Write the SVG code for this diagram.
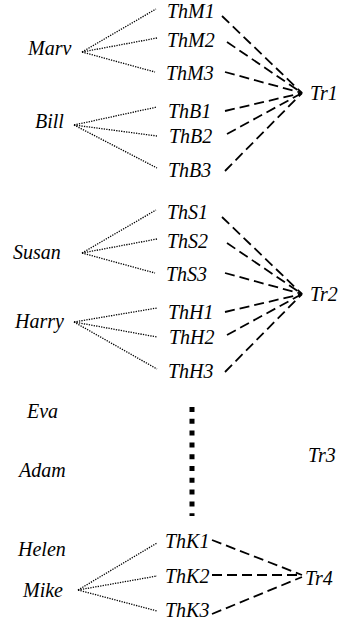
<svg xmlns="http://www.w3.org/2000/svg" width="350" height="621" viewBox="0 0 350 621">
  <style>
    .lbl { font-family: 'Liberation Serif', 'Times New Roman', serif; font-style: italic; font-size: 20px; fill: #000; }
    .dot { stroke: #000; stroke-width: 1.3; stroke-dasharray: 1.3 1.2; fill: none; }
    .dash { stroke: #000; stroke-width: 1.8; stroke-dasharray: 10 5; fill: none; }
    .gap { stroke: #000; stroke-width: 5; stroke-dasharray: 5 6.8; fill: none; }
  </style>
  <rect width="350" height="621" fill="#fff"/>

  <g id="connectors">
    <!-- person to thread links (dotted) -->
    <g id="person-links">
      <line class="dot" x1="82" y1="52" x2="156" y2="9"/>
      <line class="dot" x1="82" y1="52" x2="157" y2="38"/>
      <line class="dot" x1="82" y1="52" x2="155" y2="72"/>
      <line class="dot" x1="74" y1="125" x2="157" y2="107"/>
      <line class="dot" x1="74" y1="125" x2="157" y2="136"/>
      <line class="dot" x1="74" y1="125" x2="157" y2="168"/>

      <line class="dot" x1="82" y1="253" x2="156" y2="210"/>
      <line class="dot" x1="82" y1="253" x2="157" y2="239"/>
      <line class="dot" x1="82" y1="253" x2="155" y2="273"/>
      <line class="dot" x1="74" y1="322" x2="157" y2="308"/>
      <line class="dot" x1="74" y1="322" x2="157" y2="337"/>
      <line class="dot" x1="74" y1="322" x2="157" y2="369"/>

      <line class="dot" x1="78" y1="590" x2="157" y2="543"/>
      <line class="dot" x1="78" y1="590" x2="157" y2="576"/>
      <line class="dot" x1="78" y1="590" x2="157" y2="611"/>
    </g>
    <!-- thread to transaction links (dashed) -->
    <g id="thread-links">
      <line class="dash" x1="222" y1="16" x2="302" y2="93"/>
      <line class="dash" x1="227" y1="42" x2="302" y2="93"/>
      <line class="dash" x1="225" y1="72" x2="302" y2="93"/>
      <line class="dash" x1="225" y1="111" x2="302" y2="93"/>
      <line class="dash" x1="227" y1="134" x2="302" y2="93"/>
      <line class="dash" x1="225" y1="171" x2="302" y2="93"/>

      <line class="dash" x1="222" y1="217" x2="302" y2="294"/>
      <line class="dash" x1="227" y1="243" x2="302" y2="294"/>
      <line class="dash" x1="225" y1="273" x2="302" y2="294"/>
      <line class="dash" x1="225" y1="312" x2="302" y2="294"/>
      <line class="dash" x1="227" y1="335" x2="302" y2="294"/>
      <line class="dash" x1="225" y1="372" x2="302" y2="294"/>

      <line class="dash" x1="212" y1="540" x2="302" y2="575"/>
      <line class="dash" x1="212" y1="575" x2="302" y2="575"/>
      <line class="dash" x1="212" y1="614" x2="302" y2="577"/>
    </g>
    <!-- elided threads -->
    <line id="ellipsis" class="gap" x1="192" y1="407" x2="192" y2="516"/>
  </g>

  <!-- people -->
  <g id="Marv"><text class="lbl" x="28" y="55">Marv</text></g>
  <g id="Bill"><text class="lbl" x="35" y="128">Bill</text></g>
  <g id="Susan"><text class="lbl" x="13" y="259">Susan</text></g>
  <g id="Harry"><text class="lbl" x="15" y="328">Harry</text></g>
  <g id="Eva"><text class="lbl" x="27" y="418">Eva</text></g>
  <g id="Adam"><text class="lbl" x="19" y="477">Adam</text></g>
  <g id="Helen"><text class="lbl" x="18" y="556">Helen</text></g>
  <g id="Mike"><text class="lbl" x="23" y="597">Mike</text></g>

  <!-- threads -->
  <g id="ThM1"><text class="lbl" x="167" y="18">ThM1</text></g>
  <g id="ThM2"><text class="lbl" x="167" y="47">ThM2</text></g>
  <g id="ThM3"><text class="lbl" x="166" y="80">ThM3</text></g>
  <g id="ThB1"><text class="lbl" x="168" y="118">ThB1</text></g>
  <g id="ThB2"><text class="lbl" x="169" y="143">ThB2</text></g>
  <g id="ThB3"><text class="lbl" x="168" y="177">ThB3</text></g>

  <g id="ThS1"><text class="lbl" x="167" y="219">ThS1</text></g>
  <g id="ThS2"><text class="lbl" x="167" y="248">ThS2</text></g>
  <g id="ThS3"><text class="lbl" x="166" y="281">ThS3</text></g>
  <g id="ThH1"><text class="lbl" x="168" y="319">ThH1</text></g>
  <g id="ThH2"><text class="lbl" x="169" y="344">ThH2</text></g>
  <g id="ThH3"><text class="lbl" x="168" y="378">ThH3</text></g>

  <g id="ThK1"><text class="lbl" x="165" y="548">ThK1</text></g>
  <g id="ThK2"><text class="lbl" x="165" y="583">ThK2</text></g>
  <g id="ThK3"><text class="lbl" x="165" y="617">ThK3</text></g>

  <!-- transactions -->
  <g id="Tr1"><text class="lbl" x="310" y="100">Tr1</text></g>
  <g id="Tr2"><text class="lbl" x="310" y="301">Tr2</text></g>
  <g id="Tr3"><text class="lbl" x="308" y="462">Tr3</text></g>
  <g id="Tr4"><text class="lbl" x="305" y="585">Tr4</text></g>
</svg>
